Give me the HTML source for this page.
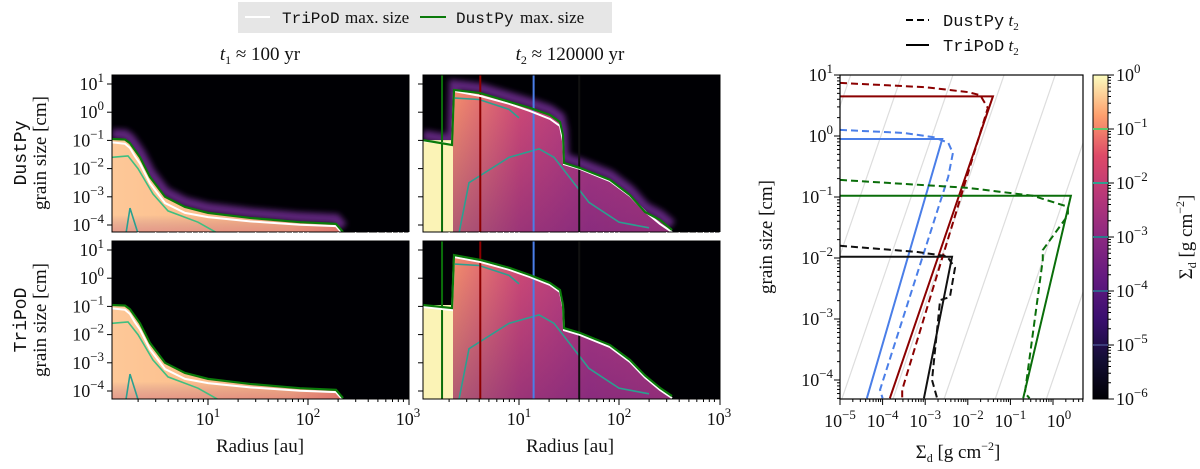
<!DOCTYPE html>
<html><head><meta charset="utf-8"><style>
html,body{margin:0;padding:0;background:#fff;width:1200px;height:469px;overflow:hidden}
svg{display:block}
text{font-family:"Liberation Serif",serif;fill:#111}
.mono{font-family:"Liberation Mono",monospace}
</style></head><body>
<svg id="fig" width="1200" height="469" xmlns="http://www.w3.org/2000/svg">
<defs>
<linearGradient id="gT1" gradientUnits="userSpaceOnUse" x1="112" y1="0" x2="409" y2="0">
<stop offset="0" stop-color="#fdc898"/><stop offset="0.6" stop-color="#fcb582"/><stop offset="0.8" stop-color="#f28466"/><stop offset="1" stop-color="#a8307c"/></linearGradient>
<linearGradient id="gT2" gradientUnits="userSpaceOnUse" x1="452" y1="0" x2="680" y2="0">
<stop offset="0" stop-color="#f6906c"/><stop offset="0.3" stop-color="#d04a76"/><stop offset="0.6" stop-color="#b03a80"/><stop offset="1" stop-color="#c04078"/></linearGradient>
<linearGradient id="gV" x1="0" y1="0" x2="0" y2="1">
<stop offset="0" stop-color="#5a1a7a" stop-opacity="0"/><stop offset="1" stop-color="#5a1a7a" stop-opacity="0.45"/></linearGradient>
<linearGradient id="gV1" x1="0" y1="0" x2="0" y2="1">
<stop offset="0" stop-color="#5a1a7a" stop-opacity="0"/><stop offset="0.8" stop-color="#5a1a7a" stop-opacity="0"/><stop offset="1" stop-color="#c04070" stop-opacity="0.35"/></linearGradient>
<linearGradient id="gCb" x1="0" y1="1" x2="0" y2="0">
<stop offset="0" stop-color="#000004"/><stop offset="0.125" stop-color="#140e36"/><stop offset="0.25" stop-color="#3b0f70"/><stop offset="0.375" stop-color="#641a80"/><stop offset="0.5" stop-color="#8c2981"/><stop offset="0.625" stop-color="#b73779"/><stop offset="0.75" stop-color="#de4968"/><stop offset="0.875" stop-color="#fe9f6d"/><stop offset="1" stop-color="#fcfdbf"/></linearGradient>
<filter id="blur" x="-10%" y="-10%" width="120%" height="120%"><feGaussianBlur stdDeviation="3"/></filter>
<clipPath id="cTL"><rect x="112" y="75" width="297" height="157"/></clipPath>
<clipPath id="cBL"><rect x="112" y="241" width="297" height="158"/></clipPath>
<clipPath id="cTR"><rect x="423" y="75" width="297" height="157"/></clipPath>
<clipPath id="cBR"><rect x="423" y="241" width="297" height="158"/></clipPath>
<clipPath id="cRP"><rect x="840" y="75" width="243" height="324"/></clipPath>
</defs>
<g id="layer"></g>
</svg>
<script>
// ---------- data: max-size curves (log10 radius [au], log10 size [cm]) ----------
const t1DustpyLogR = [0.04,0.17,0.22,0.27,0.32,0.42,0.57,0.77,1.0,1.42,1.92,2.28,2.35];
const t1DustpyLogA = [-0.95,-0.97,-1.1,-1.35,-1.6,-2.3,-3.0,-3.36,-3.57,-3.75,-3.9,-3.96,-4.25];
const t1TripodLogR = [0.04,0.17,0.22,0.27,0.32,0.42,0.57,0.77,1.0,1.42,1.92,2.28,2.35];
const t1TripodLogA = [-1.0,-1.05,-1.2,-1.5,-1.75,-2.45,-3.15,-3.5,-3.65,-3.8,-3.92,-3.97,-4.25];
const t2DustpyLogR = [0.04,0.33,0.35,0.61,0.91,1.11,1.31,1.41,1.44,1.45,1.61,1.91,2.11,2.26,2.41,2.53];
const t2DustpyLogA = [-0.99,-1.16,0.79,0.68,0.36,0.15,-0.10,-0.35,-0.81,-1.80,-1.98,-2.40,-2.94,-3.54,-3.82,-4.18];
const t2TripodLogR = [0.04,0.33,0.35,0.61,0.91,1.11,1.31,1.41,1.44,1.45,1.61,1.91,2.11,2.26,2.41,2.53];
const t2TripodLogA = [-0.95,-1.06,0.82,0.65,0.36,0.11,-0.17,-0.42,-0.95,-1.77,-1.94,-2.37,-2.9,-3.45,-3.89,-4.18];
// radii of the sampled profiles [au]
const probeRadii = [1.7, 4.1, 14, 40];
const probeColors = ["#0a6e0a","#8b0000","#4a7ee8","#111111"];
// right plot profiles, ordered top to bottom: 4.1 au, 14 au, 1.7 au, 40 au
const profileRadii = [4.1, 14, 1.7, 40];
const profileColors = ["#8b0000","#4a7ee8","#0a6e0a","#111111"];
// TriPoD t2 (solid) log10 Sigma, log10 a
const solidLogS = [[-5,-1.41,-3.83],[-5,-2.6,-4.37],[-5,0.42,-0.7],[-5,-2.37,-3.03]];
const solidLogA = [[0.65,0.65,-4.3],[-0.05,-0.05,-4.3],[-0.98,-0.98,-4.3],[-1.98,-1.98,-4.3]];
// DustPy t2 (dashed)
const dashLogS = [[-5,-3,-2,-1.71,-1.53,-3.54,-3.54],[-5,-3.5,-2.8,-2.46,-2.35,-2.46,-4.06,-4.0],[-5,-2,-0.47,0.35,0.35,-0.24,-0.24,-0.66,-0.55],[-5,-3.2,-2.49,-2.3,-2.42,-2.65,-2.84,-2.72]];
const dashLogA = [[0.87,0.8,0.72,0.67,0.46,-4.16,-4.3],[0.1,0.05,-0.02,-0.11,-0.28,-0.67,-4.16,-4.3],[-0.72,-0.85,-0.98,-1.16,-1.3,-1.87,-2.03,-4.21,-4.3],[-1.8,-1.9,-1.97,-2.16,-2.64,-2.69,-4.0,-4.3]];
const cbTicks = [0,-1,-2,-3,-4,-5,-6];
const cbContours = [-1,-2,-3,-4,-5];
const cbContourColors = ["#5fc46a","#2f9f8f","#2a7a8a","#30608a","#3c3d7a"];

const NS="http://www.w3.org/2000/svg";
const L=document.getElementById('layer');
const FS=18;
function mk(tag,attrs,parent){const e=document.createElementNS(NS,tag);for(const k in attrs)e.setAttribute(k,attrs[k]);(parent||L).appendChild(e);return e;}
function txt(x,y,s,attrs,parent){const t=mk('text',Object.assign({x:x,y:y},attrs||{}),parent);t.textContent=s;return t;}
function pow10(x,y,e,anchor,size){size=size||FS;const t=mk('text',{x:x,y:y,'text-anchor':anchor||'middle','font-size':size});
 const a=document.createElementNS(NS,'tspan');a.textContent='10';t.appendChild(a);
 const b=document.createElementNS(NS,'tspan');b.setAttribute('dy',-8);b.setAttribute('font-size',size*0.72);b.textContent=(e<0?'\u2212'+(-e):''+e);t.appendChild(b);return t;}

const panels=[
 {x0:112,y0:75,h:157,r0:108,ya:84,clip:'cTL',t:1,curveD:[t1DustpyLogR,t1DustpyLogA],curveW:[t1TripodLogR,t1TripodLogA],name:'dustpy-t1'},
 {x0:112,y0:241,h:158,r0:108,ya:250,clip:'cBL',t:1,curveD:[t1DustpyLogR,t1DustpyLogA],curveW:[t1TripodLogR,t1TripodLogA],name:'tripod-t1'},
 {x0:423,y0:75,h:157,r0:419,ya:84,clip:'cTR',t:2,curveD:[t2DustpyLogR,t2DustpyLogA],curveW:[t2TripodLogR,t2TripodLogA],name:'dustpy-t2'},
 {x0:423,y0:241,h:158,r0:419,ya:250,clip:'cBR',t:2,curveD:[t2TripodLogR,t2TripodLogA],curveW:[t2TripodLogR,t2TripodLogA],name:'tripod-t2'}];
panels.forEach(p=>{
 const X=lr=>p.r0+lr*100, Y=la=>p.ya+(1-la)*28.2;
 const g=mk('g',{'clip-path':'url(#'+p.clip+')'});
 
 
 mk('rect',{x:p.x0,y:p.y0,width:297,height:p.h,fill:'#000004'},g);
 const [R,A]=p.curveD;
 let pts=R.map((r,i)=>X(r)+','+Y(A[i]));
 const bot=p.y0+p.h+2;
 const poly=pts.join(' ')+' '+X(R[R.length-1])+','+bot+' '+X(R[0])+','+bot;
 if(p.y0<100) mk('polyline',{points:R.map((r,i)=>X(r)+','+(Y(A[i])-5)).join(' '),fill:'none',stroke:'#6a2a8a','stroke-width':10,filter:'url(#blur)',opacity:0.9},g);
 mk('polygon',{points:poly,fill:p.t==1?'url(#gT1)':'url(#gT2)'},g);
 mk('polygon',{points:poly,fill:p.t==1?'url(#gV1)':'url(#gV)'},g);
 if(p.t==2){ mk('rect',{x:p.x0,y:Y(A[0]),width:X(0.34)-p.x0,height:bot-Y(A[0]),fill:'#fbf3b6'},g); }
 if(p.t==1){
  mk('polyline',{points:[[0.04,-1.6],[0.2,-1.55],[0.3,-2.0],[0.45,-2.9],[0.6,-3.5],[0.9,-3.9],[1.1,-4.3]].map(q=>X(q[0])+','+Y(q[1])).join(' '),fill:'none',stroke:'#3fbf80','stroke-width':1.6},g);
  mk('polyline',{points:[[0.18,-4.3],[0.22,-3.4],[0.3,-4.3]].map(q=>X(q[0])+','+Y(q[1])).join(' '),fill:'none',stroke:'#2aa090','stroke-width':1.6},g);
 } else {
  mk('polyline',{points:[[0.4,-4.3],[0.5,-2.5],[0.9,-1.6],[1.2,-1.3],[1.35,-1.6],[1.7,-3.2],[2.0,-3.9],[2.3,-4.1]].map(q=>X(q[0])+','+Y(q[1])).join(' '),fill:'none',stroke:'#2aa090','stroke-width':1.6},g);
  mk('polyline',{points:[[0.36,0.5],[0.6,0.45],[0.9,0.1],[1.0,-0.2]].map(q=>X(q[0])+','+Y(q[1])).join(' '),fill:'none',stroke:'#2aa090','stroke-width':1.6},g);
  probeRadii.forEach((r,i)=>{const l=mk('line',{x1:X(Math.log10(r)),x2:X(Math.log10(r)),y1:p.y0,y2:p.y0+p.h,stroke:probeColors[i],'stroke-width':2},g);
   
   });
 }
 const cw=mk('polyline',{points:p.curveW[0].map((r,i)=>X(r)+','+(Y(p.curveW[1][i])+2)).join(' '),fill:'none',stroke:'#fff','stroke-width':2},g);
 
 
 const cg=mk('polyline',{points:pts.join(' '),fill:'none',stroke:'#0a7a0a','stroke-width':2.2},g);
 
 
 mk('rect',{x:p.x0,y:p.y0,width:297,height:p.h,fill:'none',stroke:'#000','stroke-width':1});
 for(let e=1;e>=-4;e--){mk('line',{x1:p.x0-5,x2:p.x0,y1:Y(e),y2:Y(e),stroke:'#000'});
  if(p.x0<200) pow10(p.x0-8,Y(e)+6,e,'end');}
 for(let d=0;d<3;d++)for(let k=1;k<10;k++){const lr=d+Math.log10(k);const x=X(lr);if(x<p.x0-0.5||x>p.x0+297.5)continue;
  mk('line',{x1:x,x2:x,y1:p.y0+p.h,y2:p.y0+p.h+(k==1?6:3),stroke:p.y0<100?'#fff':'#000'});}
 mk('line',{x1:p.x0+297,x2:p.x0+297,y1:p.y0+p.h,y2:p.y0+p.h+6,stroke:p.y0<100?'#fff':'#000'});
 if(p.y0>200){[1,2,3].forEach(e=>pow10(X(e),p.y0+p.h+26,e,'middle'));}
});
(function(){const t=mk('text',{x:260,y:60,'text-anchor':'middle','font-size':19});
 t.innerHTML='<tspan font-style="italic">t</tspan><tspan font-size="12" dy="4">1</tspan><tspan dy="-4"> \u2248 100 yr</tspan>';
 const t2=mk('text',{x:570,y:60,'text-anchor':'middle','font-size':19});
 t2.innerHTML='<tspan font-style="italic">t</tspan><tspan font-size="12" dy="4">2</tspan><tspan dy="-4"> \u2248 120000 yr</tspan>';})();
[[153,'DustPy'],[320,'TriPoD']].forEach(([y,s])=>{
 const t=txt(26,y,s,{'class':'mono','font-size':18,'text-anchor':'middle',transform:'rotate(-90 26 '+y+')'});
 
 
 const t2=txt(46,y,'grain size [cm]',{'font-size':19,'text-anchor':'middle',transform:'rotate(-90 46 '+y+')'});
 
 });
[260,570].forEach(x=>{const t=txt(x,452,'Radius [au]',{'font-size':19,'text-anchor':'middle'});});
(function(){const g=mk('g',{});
 mk('rect',{x:238,y:2,width:374,height:31,fill:'#e6e6e6'},g);
 mk('line',{x1:245,x2:270,y1:17,y2:17,stroke:'#fff','stroke-width':2},g);
 txt(282,23,'TriPoD',{'class':'mono','font-size':16},g);txt(345,23,'max. size',{'font-size':17},g);
 mk('line',{x1:420,x2:446,y1:17,y2:17,stroke:'#0a7a0a','stroke-width':2},g);
 txt(456,23,'DustPy',{'class':'mono','font-size':16},g);txt(520,23,'max. size',{'font-size':17},g);})();
(function(){const g=mk('g',{});
 mk('line',{x1:906,x2:929,y1:20,y2:20,stroke:'#000','stroke-width':2,'stroke-dasharray':'7,4'},g);
 const a=mk('text',{x:943,y:26,'font-size':17},g);a.innerHTML='<tspan class="mono">DustPy</tspan><tspan font-style="italic"> t</tspan><tspan font-size="11" dy="4">2</tspan>';
 mk('line',{x1:906,x2:929,y1:45,y2:45,stroke:'#000','stroke-width':2},g);
 const b=mk('text',{x:943,y:51,'font-size':17},g);b.innerHTML='<tspan class="mono">TriPoD</tspan><tspan font-style="italic"> t</tspan><tspan font-size="11" dy="4">2</tspan>';})();
const SX=ls=>840+(ls+5)*42.6, SY=la=>75+(1-la)*61;
(function(){const g=mk('g',{'clip-path':'url(#cRP)'});
 for(let k=-10;k<10;k++){mk('line',{x1:SX(-5+k*1.2),y1:SY(-4.4),x2:SX(-5+k*1.2+2.7),y2:SY(1.1),stroke:'#dddddd','stroke-width':1.2},g);}
 solidLogS.forEach((s,i)=>{const l=mk('polyline',{points:s.map((v,j)=>SX(v)+','+SY(solidLogA[i][j])).join(' '),fill:'none',stroke:profileColors[i],'stroke-width':2},g);
  
  });
 dashLogS.forEach((s,i)=>{const l=mk('polyline',{points:s.map((v,j)=>SX(v)+','+SY(dashLogA[i][j])).join(' '),fill:'none',stroke:profileColors[i],'stroke-width':2,'stroke-dasharray':'7,4'},g);
  
  });})();
mk('rect',{x:840,y:75,width:243,height:324,fill:'none',stroke:'#000','stroke-width':1.2});
for(let e=-5;e<=0;e++){for(let k=1;k<10;k++){const x=SX(e+Math.log10(k));if(x>1083)break;mk('line',{x1:x,x2:x,y1:399,y2:399+(k==1?6:3),stroke:'#000'});}
 pow10(SX(e)+(e==0?6:0),427,e,'middle');}
for(let e=-5;e<=1;e++){for(let k=1;k<10;k++){const y=SY(e+Math.log10(k));if(y<75||y>399)continue;mk('line',{x1:840-(k==1?6:3),x2:840,y1:y,y2:y,stroke:'#000'});}
 if(e>=-4)pow10(833,SY(e)+6,e,'end');}
(function(){const t=mk('text',{x:772,y:237,'font-size':19,'text-anchor':'middle',transform:'rotate(-90 772 237)'});t.textContent='grain size [cm]';
 
 const x=mk('text',{x:958,y:458,'font-size':19,'text-anchor':'middle'});x.innerHTML='\u03A3<tspan font-size="12" dy="4">d</tspan><tspan dy="-4"> [g cm</tspan><tspan font-size="12" dy="-8">\u22122</tspan><tspan dy="8">]</tspan>';
 })();
(function(){const g=mk('g',{});
 mk('rect',{x:1093,y:75,width:15,height:324,fill:'url(#gCb)',stroke:'#000'},g);
 const CY=e=>75+(-e)*54;
 cbContours.forEach((e,i)=>mk('line',{x1:1093,x2:1108,y1:CY(e),y2:CY(e),stroke:cbContourColors[i],'stroke-width':2},g));
 cbTicks.forEach(e=>{mk('line',{x1:1108,x2:1114,y1:CY(e),y2:CY(e),stroke:'#000'},g);pow10(1116,CY(e)+6,e,'start');
  if(e>-6)for(let k=2;k<10;k++){const y=CY(e-1+Math.log10(k));mk('line',{x1:1108,x2:1111,y1:y,y2:y,stroke:'#000'},g);}});
 const t=mk('text',{x:1192,y:237,'font-size':19,'text-anchor':'middle',transform:'rotate(-90 1192 237)'},g);
 t.innerHTML='\u03A3<tspan font-size="12" dy="4">d</tspan><tspan dy="-4"> [g cm</tspan><tspan font-size="12" dy="-8">\u22122</tspan><tspan dy="8">]</tspan>';})();
</script>
</body></html>
